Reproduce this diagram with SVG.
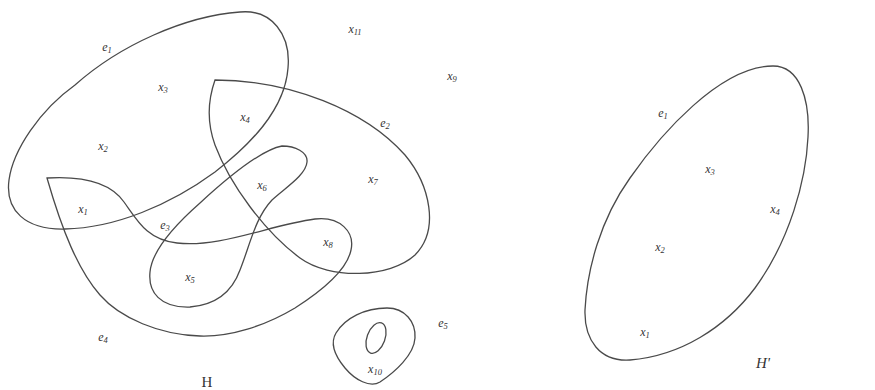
<svg xmlns="http://www.w3.org/2000/svg" width="875" height="390" viewBox="0 0 875 390">
<style>
.edge{fill:none;stroke:#4a4a4a;stroke-width:1.3}
.lbl{font-family:"Liberation Serif",serif;font-style:italic;font-size:12px;fill:#333;text-anchor:middle}
.sub{font-size:8.5px}
.title{font-family:"Liberation Serif",serif;font-size:15px;fill:#333;text-anchor:middle}
</style>
<rect width="875" height="390" fill="#fff"/>
<g id="connectors">
  <path id="e1" class="edge" d="M240,12 C272,9 291,35 288,68 C285,110 250,145 215,172 C170,205 115,228 65,229 C25,230 5,210 9,180 C13,150 40,110 75,85 C120,45 185,16 240,12 Z"/>
  <path id="e2" class="edge" d="M215,80 C290,80 365,110 405,155 C430,185 440,230 415,255 C390,278 330,280 300,258 C265,232 230,185 215,145 C207,123 208,100 215,80 Z"/>
  <path id="e3" class="edge" d="M282,146 C295,146 308,152 307,162 C306,175 285,188 272,200 C255,218 250,245 240,270 C232,292 215,305 190,307 C160,308 148,292 150,272 C152,250 175,225 200,203 C225,180 260,150 282,146 Z"/>
  <path id="e4" class="edge" d="M47,178 C80,176 110,182 124,202 C137,220 147,240 177,243 C220,248 270,225 315,219 C340,216 355,232 351,250 C347,270 320,292 295,308 C265,326 230,337 200,336 C160,335 120,318 100,295 C78,270 62,230 47,178 Z"/>
  <path id="e5" class="edge" d="M336,333 C345,318 365,308 387,308 C405,308 416,322 415,338 C414,355 395,372 380,382 C370,388 355,380 345,368 C335,356 330,343 336,333 Z"/>
  <ellipse id="e5-inner" class="edge" cx="376" cy="338" rx="9" ry="16" transform="rotate(20 376 338)"/>
  <path id="h2-e1" class="edge" d="M773,66 C800,66 810,100 808,137 C806,180 790,240 755,288 C725,328 680,356 630,360 C600,362 584,340 585,310 C587,270 600,220 630,178 C660,135 720,66 773,66 Z"/>
</g>
<g id="edge-labels">
  <text class="lbl" x="107" y="51">e<tspan class="sub" dy="2">1</tspan></text>
  <text class="lbl" x="385" y="127">e<tspan class="sub" dy="2">2</tspan></text>
  <text class="lbl" x="165" y="229">e<tspan class="sub" dy="2">3</tspan></text>
  <text class="lbl" x="103" y="341">e<tspan class="sub" dy="2">4</tspan></text>
  <text class="lbl" x="443" y="327">e<tspan class="sub" dy="2">5</tspan></text>
  <text class="lbl" x="663" y="117">e<tspan class="sub" dy="2">1</tspan></text>
</g>
<g id="x1"><text class="lbl" x="83" y="213">x<tspan class="sub" dy="2">1</tspan></text></g>
<g id="x2"><text class="lbl" x="103" y="150">x<tspan class="sub" dy="2">2</tspan></text></g>
<g id="x3"><text class="lbl" x="163" y="91">x<tspan class="sub" dy="2">3</tspan></text></g>
<g id="x4"><text class="lbl" x="245" y="121">x<tspan class="sub" dy="2">4</tspan></text></g>
<g id="x5"><text class="lbl" x="190" y="281">x<tspan class="sub" dy="2">5</tspan></text></g>
<g id="x6"><text class="lbl" x="262" y="189">x<tspan class="sub" dy="2">6</tspan></text></g>
<g id="x7"><text class="lbl" x="373" y="183">x<tspan class="sub" dy="2">7</tspan></text></g>
<g id="x8"><text class="lbl" x="328" y="246">x<tspan class="sub" dy="2">8</tspan></text></g>
<g id="x9"><text class="lbl" x="452" y="80">x<tspan class="sub" dy="2">9</tspan></text></g>
<g id="x10"><text class="lbl" x="375" y="373">x<tspan class="sub" dy="2">10</tspan></text></g>
<g id="x11"><text class="lbl" x="355" y="33">x<tspan class="sub" dy="2">11</tspan></text></g>
<g id="h2-x1"><text class="lbl" x="645" y="336">x<tspan class="sub" dy="2">1</tspan></text></g>
<g id="h2-x2"><text class="lbl" x="660" y="251">x<tspan class="sub" dy="2">2</tspan></text></g>
<g id="h2-x3"><text class="lbl" x="710" y="173">x<tspan class="sub" dy="2">3</tspan></text></g>
<g id="h2-x4"><text class="lbl" x="775" y="213">x<tspan class="sub" dy="2">4</tspan></text></g>
<g id="titles">
  <text class="title" x="207" y="387">H</text>
  <text class="title" x="763" y="368" font-style="italic" font-size="13">H'</text>
</g>
</svg>
